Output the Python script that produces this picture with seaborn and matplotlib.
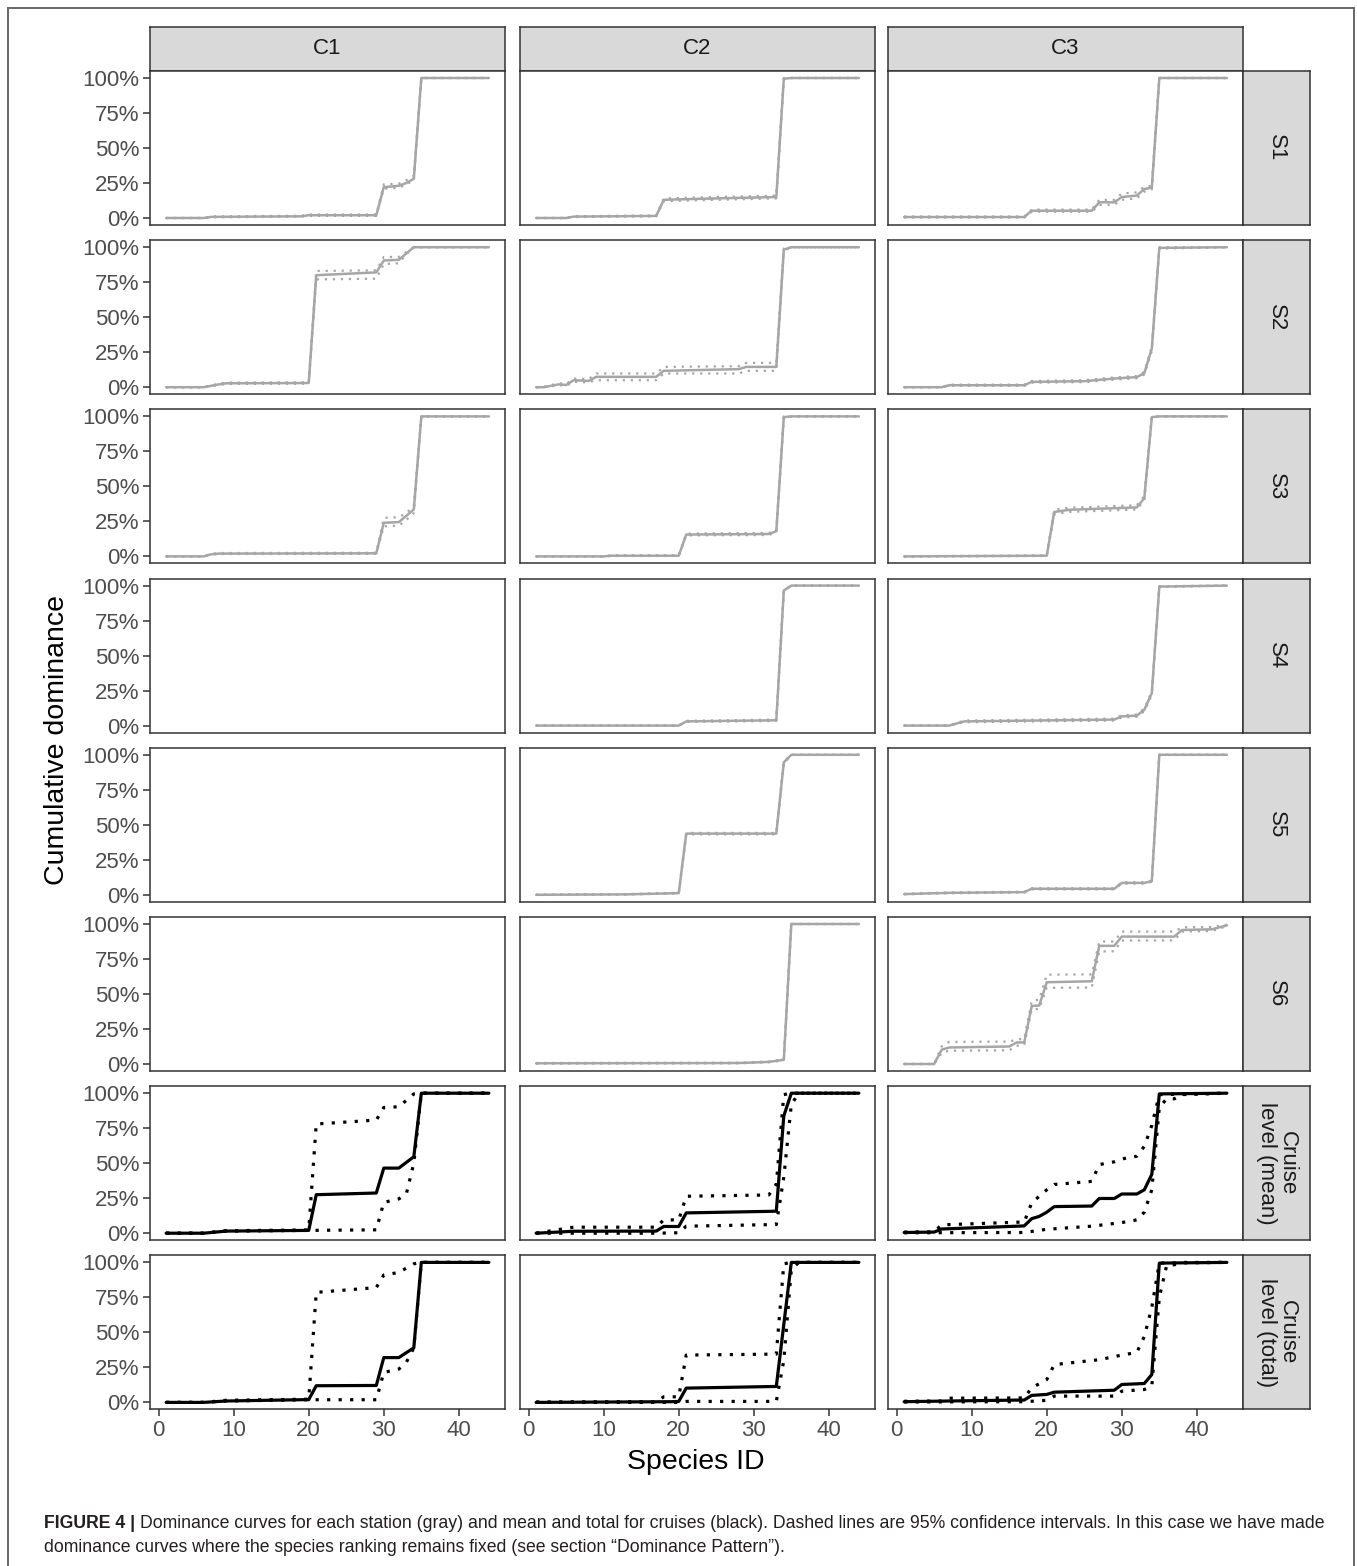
"""Dominance curves per station and cruise, faceted cruise x station."""

import matplotlib
matplotlib.use("Agg")
import matplotlib.pyplot as plt
import pandas as pd
import seaborn as sns
from matplotlib.patches import Rectangle

sns.set_theme(style="white")
plt.rcParams["font.family"] = ["Liberation Sans", "DejaVu Sans"]

W, H = 1357, 1566

CRUISES = ["C1", "C2", "C3"]
ROWS = ["S1", "S2", "S3", "S4", "S5", "S6", "Cruise\nlevel (mean)", "Cruise\nlevel (total)"]
X_TICKS = [0, 10, 20, 30, 40]
Y_TICKS = [0, 25, 50, 75, 100]
Y_TICK_LABELS = ["0%", "25%", "50%", "75%", "100%"]

# (species id, cumulative dominance %) vertices
C1_S1_MEAN = [(1, 0), (6, 0), (7, 0.8), (19, 1.2), (20, 2), (29, 2), (30, 22), (32, 23), (33, 25), (34, 28), (35, 100), (44, 100)]
C1_S1_LO = [(1, 0), (6, 0), (7, 0.5), (19, 1), (20, 1.5), (29, 1.5), (30, 21), (32, 21.5), (33, 24), (34, 27), (35, 100), (44, 100)]
C1_S1_HI = [(1, 0), (6, 0), (7, 1.2), (19, 1.6), (20, 2.5), (29, 2.5), (30, 24), (32, 24.5), (33, 27), (34, 30), (35, 100), (44, 100)]

C1_S2_MEAN = [(1, 0), (6, 0), (8, 2), (9, 2.8), (20, 3), (21, 80), (25, 81), (29, 82), (30, 90.5), (32, 91), (34, 100), (44, 100)]
C1_S2_LO = [(1, 0), (6, 0), (8, 1.5), (9, 2.3), (20, 2.5), (21, 77), (29, 77.5), (30, 88), (32, 88.5), (33, 95), (34, 100), (44, 100)]
C1_S2_HI = [(1, 0), (6, 0), (8, 2.5), (9, 3.3), (20, 3.5), (21, 83), (29, 83.5), (30, 93), (32, 93), (34, 100), (44, 100)]

C1_S3_MEAN = [(1, 0), (6, 0), (7, 1.5), (8, 2), (29, 2.2), (30, 24), (32, 24.5), (34, 33.5), (35, 100), (44, 100)]
C1_S3_LO = [(1, 0), (6, 0), (7, 1.2), (8, 1.7), (29, 1.8), (30, 21.5), (32, 22), (33, 26), (34, 31), (35, 100), (44, 100)]
C1_S3_HI = [(1, 0), (6, 0), (7, 1.8), (8, 2.4), (29, 2.6), (30, 27.5), (32, 28), (33, 31), (34, 36), (35, 100), (44, 100)]

C2_S1_MEAN = [(1, 0), (5, 0), (6, 1), (17, 1.5), (18, 13), (25, 14), (33, 15), (34, 99.5), (35, 100), (44, 100)]
C2_S1_LO = [(1, 0), (5, 0), (6, 0.7), (17, 1.2), (18, 12), (25, 13), (33, 14), (34, 99), (35, 100), (44, 100)]
C2_S1_HI = [(1, 0), (5, 0), (6, 1.3), (17, 1.8), (18, 14), (25, 15), (33, 16), (34, 100), (44, 100)]

C2_S2_MEAN = [(1, 0), (2, 0), (3, 1), (4, 2), (5, 1.6), (6, 5), (8, 4.5), (9, 7.4), (17, 7.4), (18, 11.7), (28, 12.9), (29, 14.5), (33, 14.5), (34, 98.3), (35, 100), (44, 100)]
C2_S2_LO = [(1, 0), (2, 0), (3, 0.6), (4, 1.4), (5, 1), (6, 3.8), (8, 3.5), (9, 5), (17, 5), (18, 9.8), (28, 9.8), (29, 11.7), (33, 11.7), (34, 97.5), (35, 100), (44, 100)]
C2_S2_HI = [(1, 0), (2, 0.4), (3, 1.5), (4, 2.8), (5, 2.4), (6, 6.2), (8, 5.8), (9, 9.8), (17, 9.8), (18, 14.5), (28, 15), (29, 17.4), (33, 17.4), (34, 99), (35, 100), (44, 100)]

C2_S3_MEAN = [(1, 0), (10, 0), (11, 0.5), (20, 0.5), (21, 15.6), (32, 16), (33, 18), (34, 99.5), (35, 100), (44, 100)]
C2_S3_LO = [(1, 0), (10, 0), (11, 0.3), (20, 0.3), (21, 15), (32, 15.3), (33, 17.2), (34, 99), (35, 100), (44, 100)]
C2_S3_HI = [(1, 0), (10, 0), (11, 0.8), (20, 0.8), (21, 16.3), (32, 16.7), (33, 18.8), (34, 100), (44, 100)]

C2_S4_MEAN = [(1, 0), (20, 0), (21, 3), (33, 3.8), (34, 96.5), (35, 100), (44, 100)]
C2_S4_LO = [(1, 0), (20, 0), (21, 2.6), (33, 3.3), (34, 96), (35, 100), (44, 100)]
C2_S4_HI = [(1, 0), (20, 0), (21, 3.4), (33, 4.3), (34, 97), (35, 100), (44, 100)]

C2_S5_MEAN = [(1, 0), (13, 0.3), (20, 1.2), (21, 43.7), (33, 43.7), (34, 94.6), (35, 100), (44, 100)]
C2_S5_LO = [(1, 0), (13, 0.2), (20, 1), (21, 43.2), (33, 43.2), (34, 94), (35, 100), (44, 100)]
C2_S5_HI = [(1, 0), (13, 0.5), (20, 1.5), (21, 44.2), (33, 44.2), (34, 95.2), (35, 100), (44, 100)]

C2_S6_MEAN = [(1, 0.5), (28, 0.7), (32, 1.5), (34, 3), (35, 100), (44, 100)]
C2_S6_LO = [(1, 0.3), (28, 0.5), (32, 1.2), (34, 2.6), (35, 100), (44, 100)]
C2_S6_HI = [(1, 0.7), (28, 0.9), (32, 1.8), (34, 3.4), (35, 100), (44, 100)]

C3_S1_MEAN = [(1, 0.7), (17, 0.7), (18, 5.2), (26, 5.2), (27, 11.2), (29, 11.2), (30, 15), (32, 16), (33, 20.7), (34, 21.7), (35, 100), (44, 100)]
C3_S1_LO = [(1, 0.3), (17, 0.3), (18, 4.5), (26, 4.5), (27, 9.3), (29, 9.5), (30, 13), (32, 14), (33, 18.8), (34, 20.5), (35, 100), (44, 100)]
C3_S1_HI = [(1, 1.1), (17, 1.1), (18, 6), (26, 6), (27, 12.9), (29, 13), (30, 17.5), (32, 18.3), (33, 22.4), (34, 23), (35, 100), (44, 100)]

C3_S2_MEAN = [(1, 0), (6, 0), (7, 1.4), (17, 1.4), (18, 3.8), (25, 4.3), (29, 6.2), (32, 7.2), (33, 10), (34, 27.6), (35, 99.5), (44, 100)]
C3_S2_LO = [(1, 0), (6, 0), (7, 1), (17, 1), (18, 3.2), (25, 3.6), (29, 5.4), (32, 6.4), (33, 9), (34, 26), (35, 99), (44, 100)]
C3_S2_HI = [(1, 0), (6, 0), (7, 1.8), (17, 1.8), (18, 4.4), (25, 5), (29, 7), (32, 8), (33, 11), (34, 29), (35, 100), (44, 100)]

C3_S3_MEAN = [(1, 0), (20, 0.5), (21, 31.7), (23, 33.3), (32, 35), (33, 41.6), (34, 99.5), (35, 100), (44, 100)]
C3_S3_LO = [(1, 0), (20, 0.3), (21, 30), (23, 31.8), (32, 33.5), (33, 40), (34, 99), (35, 100), (44, 100)]
C3_S3_HI = [(1, 0), (20, 0.7), (21, 33.3), (23, 34.8), (32, 36.5), (33, 43), (34, 100), (44, 100)]

C3_S4_MEAN = [(1, 0), (7, 0), (9, 3), (29, 4.3), (30, 6.6), (32, 7.1), (33, 11.3), (34, 23.2), (35, 99.3), (44, 100)]
C3_S4_LO = [(1, 0), (7, 0), (9, 2.4), (29, 3.6), (30, 5.8), (32, 6.3), (33, 10.3), (34, 22), (35, 99), (44, 100)]
C3_S4_HI = [(1, 0), (7, 0), (9, 3.6), (29, 5), (30, 7.4), (32, 7.9), (33, 12.3), (34, 24.4), (35, 99.6), (44, 100)]

C3_S5_MEAN = [(1, 0.5), (7, 1.4), (17, 1.9), (18, 4.3), (29, 4.3), (30, 8.5), (33, 8.5), (34, 9.7), (35, 100), (44, 100)]
C3_S5_LO = [(1, 0.3), (7, 1.1), (17, 1.6), (18, 3.9), (29, 3.9), (30, 8), (33, 8), (34, 9.2), (35, 100), (44, 100)]
C3_S5_HI = [(1, 0.7), (7, 1.7), (17, 2.2), (18, 4.7), (29, 4.7), (30, 9), (33, 9), (34, 10.2), (35, 100), (44, 100)]

C3_S6_MEAN = [(1, 0), (5, 0), (6, 10.2), (7, 11.8), (15, 12.5), (16, 15.4), (17, 15.4), (18, 41.4), (19, 41.8), (20, 58.4), (26, 59.1), (27, 84.4), (29, 84.4), (30, 91), (37, 91), (38, 95.7), (42, 96.2), (44, 99)]
C3_S6_LO = [(1, 0), (5, 0), (6, 8), (7, 9.5), (15, 9.8), (16, 13), (17, 13.5), (18, 39), (19, 39.5), (20, 54.4), (26, 54.6), (27, 80.4), (29, 80.5), (30, 88.2), (37, 88.3), (38, 94.6), (42, 95), (44, 98.5)]
C3_S6_HI = [(1, 0), (5, 0), (6, 12.5), (7, 15.8), (15, 16), (16, 17.5), (17, 18), (18, 45), (19, 46), (20, 63.8), (26, 64), (27, 87.5), (29, 87.5), (30, 94.6), (37, 94.6), (38, 97.6), (42, 97.8), (44, 99.5)]

C1_CM_MEAN = [(1, 0), (6, 0), (9, 1.5), (20, 2), (21, 27.5), (29, 28.7), (30, 46.5), (32, 46.5), (34, 54.6), (35, 100), (44, 100)]
C1_CM_LO = [(1, 0), (6, 0), (9, 1.5), (20, 2), (29, 2.4), (30, 22), (32, 24.5), (33, 28), (34, 50), (35, 100), (44, 100)]
C1_CM_HI = [(1, 0), (6, 0), (9, 1.8), (20, 2.3), (21, 78), (29, 80.8), (30, 89.8), (32, 90.3), (34, 99.5), (35, 100), (44, 100)]

C1_CT_MEAN = [(1, 0), (6, 0), (9, 1), (20, 2), (21, 11.9), (29, 12.1), (30, 32), (32, 32), (34, 39), (35, 100), (44, 100)]
C1_CT_LO = [(1, 0), (6, 0), (9, 1), (20, 1.9), (29, 1.9), (30, 21.4), (32, 23.8), (33, 28.6), (34, 39), (35, 100), (44, 100)]
C1_CT_HI = [(1, 0), (6, 0), (9, 1.5), (20, 2.3), (21, 78.6), (29, 82), (30, 91), (32, 92.8), (34, 99), (35, 100), (44, 100)]

C2_CM_MEAN = [(1, 0), (6, 1.4), (17, 1.5), (18, 4.8), (20, 4.8), (21, 14.5), (33, 15.7), (34, 83.8), (35, 100), (44, 100)]
C2_CM_LO = [(1, 0), (17, 0), (20, 0.3), (21, 5), (33, 6.2), (34, 40), (35, 92), (36, 100), (44, 100)]
C2_CM_HI = [(1, 0), (6, 4.3), (17, 4.3), (18, 9.5), (20, 9.5), (21, 26.4), (32, 27.3), (33, 35), (34, 99), (35, 100), (44, 100)]

C2_CT_MEAN = [(1, 0), (19, 0.5), (20, 0.7), (21, 10.2), (33, 11.4), (35, 100), (44, 100)]
C2_CT_LO = [(1, 0), (20, 0), (21, 0.7), (33, 0.7), (34, 30), (35, 95), (36, 100), (44, 100)]
C2_CT_HI = [(1, 0.3), (17, 0.5), (18, 4), (20, 4), (21, 33.8), (33, 34.5), (34, 99), (35, 100), (44, 100)]

C3_CM_MEAN = [(1, 0.5), (5, 0.8), (6, 3), (17, 5.2), (18, 10.4), (19, 12), (20, 15), (21, 19), (26, 19.4), (27, 24.8), (29, 24.8), (30, 28), (32, 28), (33, 31), (34, 42), (35, 99.5), (44, 100)]
C3_CM_LO = [(1, 0.3), (17, 0.5), (20, 2.8), (26, 5), (30, 7.6), (32, 9.5), (33, 15), (34, 31), (35, 90), (36, 96), (37, 96), (38, 99), (44, 100)]
C3_CM_HI = [(1, 0.8), (5, 1), (6, 6), (17, 8), (18, 21.7), (20, 31), (21, 34.8), (26, 37), (27, 49), (29, 51), (30, 53), (32, 55), (33, 62), (34, 77), (35, 99), (44, 100)]

C3_CT_MEAN = [(1, 0.5), (7, 1), (17, 1.7), (18, 5), (20, 5.7), (21, 7.3), (29, 8.7), (30, 12.8), (33, 13.5), (34, 19.9), (35, 99.5), (44, 100)]
C3_CT_LO = [(1, 0.3), (17, 0.5), (20, 1.5), (21, 4.5), (29, 4.5), (30, 8), (33, 9.2), (34, 11.6), (35, 75), (36, 98.3), (37, 98.3), (38, 100), (44, 100)]
C3_CT_HI = [(1, 0.8), (6, 1), (7, 3), (17, 3.2), (18, 10.4), (20, 16.3), (21, 27), (27, 30.5), (30, 33.8), (32, 35.7), (33, 47), (34, 68), (35, 99.5), (44, 100)]

CURVES = {
    ("C1", "S1"): (C1_S1_MEAN, C1_S1_LO, C1_S1_HI),
    ("C1", "S2"): (C1_S2_MEAN, C1_S2_LO, C1_S2_HI),
    ("C1", "S3"): (C1_S3_MEAN, C1_S3_LO, C1_S3_HI),
    ("C2", "S1"): (C2_S1_MEAN, C2_S1_LO, C2_S1_HI),
    ("C2", "S2"): (C2_S2_MEAN, C2_S2_LO, C2_S2_HI),
    ("C2", "S3"): (C2_S3_MEAN, C2_S3_LO, C2_S3_HI),
    ("C2", "S4"): (C2_S4_MEAN, C2_S4_LO, C2_S4_HI),
    ("C2", "S5"): (C2_S5_MEAN, C2_S5_LO, C2_S5_HI),
    ("C2", "S6"): (C2_S6_MEAN, C2_S6_LO, C2_S6_HI),
    ("C3", "S1"): (C3_S1_MEAN, C3_S1_LO, C3_S1_HI),
    ("C3", "S2"): (C3_S2_MEAN, C3_S2_LO, C3_S2_HI),
    ("C3", "S3"): (C3_S3_MEAN, C3_S3_LO, C3_S3_HI),
    ("C3", "S4"): (C3_S4_MEAN, C3_S4_LO, C3_S4_HI),
    ("C3", "S5"): (C3_S5_MEAN, C3_S5_LO, C3_S5_HI),
    ("C3", "S6"): (C3_S6_MEAN, C3_S6_LO, C3_S6_HI),
    ("C1", ROWS[6]): (C1_CM_MEAN, C1_CM_LO, C1_CM_HI),
    ("C1", ROWS[7]): (C1_CT_MEAN, C1_CT_LO, C1_CT_HI),
    ("C2", ROWS[6]): (C2_CM_MEAN, C2_CM_LO, C2_CM_HI),
    ("C2", ROWS[7]): (C2_CT_MEAN, C2_CT_LO, C2_CT_HI),
    ("C3", ROWS[6]): (C3_CM_MEAN, C3_CM_LO, C3_CM_HI),
    ("C3", ROWS[7]): (C3_CT_MEAN, C3_CT_LO, C3_CT_HI),
}

records = []
for (cruise, row), series in CURVES.items():
    for stat, pts in zip(["mean", "lo", "hi"], series):
        for sp, val in pts:
            records.append({"cruise": cruise, "row": row, "stat": stat, "species": sp, "value": val})
df = pd.DataFrame(records)

# layout in pixels of the reference
COL_LEFT = [150, 520, 888]
PANEL_W = 355
ROW_TOP = [71 + 169.2 * i for i in range(8)]
PANEL_H = 154
EDGE = "#333333"
GRAY = "#a6a6a6"

fig = plt.figure(figsize=(W / 100, H / 100), dpi=100)


def px_axes(x0, y0, x1, y1):
    return fig.add_axes([x0 / W, 1 - y1 / H, (x1 - x0) / W, (y1 - y0) / H])


def style_box(ax):
    for sp in ax.spines.values():
        sp.set_visible(True)
        sp.set_color(EDGE)
        sp.set_linewidth(1.1)


for ci, cruise in enumerate(CRUISES):
    x0 = COL_LEFT[ci]
    strip = px_axes(x0, 27, x0 + PANEL_W, 71)
    strip.set_facecolor("#d9d9d9")
    strip.set_xticks([])
    strip.set_yticks([])
    style_box(strip)
    strip.text(0.5, 0.5, cruise, ha="center", va="center", fontsize=16, color="#1a1a1a",
               transform=strip.transAxes)

    for ri, row in enumerate(ROWS):
        y0 = ROW_TOP[ri]
        ax = px_axes(x0, y0, x0 + PANEL_W, y0 + PANEL_H)
        ax.set_facecolor("white")
        style_box(ax)
        sub = df[(df["cruise"] == cruise) & (df["row"] == row)]
        cruise_level = ri >= 6
        color = "black" if cruise_level else GRAY
        if len(sub):
            sns.lineplot(data=sub[sub["stat"] == "mean"], x="species", y="value", color=color,
                         lw=2.3 if cruise_level else 1.8, estimator=None, ax=ax)
            for stat in ["lo", "hi"]:
                sns.lineplot(data=sub[sub["stat"] == stat], x="species", y="value", color=color,
                             lw=2.3 if cruise_level else 1.6, linestyle=(0, (1, 2.6)),
                             estimator=None, ax=ax)
        ax.set_xlim(1 - 0.05 * 43, 44 + 0.05 * 43)
        ax.set_ylim(-5, 105)
        ax.set_xlabel("")
        ax.set_ylabel("")
        ax.set_xticks(X_TICKS)
        ax.set_yticks(Y_TICKS)
        ax.set_yticklabels(Y_TICK_LABELS)
        ax.tick_params(axis="both", length=4.8, width=1.1, color=EDGE, labelcolor="#4d4d4d",
                       labelsize=16, pad=3)
        ax.tick_params(axis="x", bottom=(ri == 7), labelbottom=(ri == 7))
        ax.tick_params(axis="y", left=(ci == 0), labelleft=(ci == 0))
        ax.grid(False)

        if ci == 2:
            rs = px_axes(1243, y0, 1310, y0 + PANEL_H)
            rs.set_facecolor("#d9d9d9")
            rs.set_xticks([])
            rs.set_yticks([])
            style_box(rs)
            rs.text(0.5, 0.5, row, ha="center", va="center", rotation=-90, fontsize=16,
                    color="#1a1a1a", multialignment="center", linespacing=1.0,
                    transform=rs.transAxes)

fig.text(57 / W, 1 - 740 / H, "Cumulative dominance", rotation=90, ha="center", va="center",
         fontsize=20.5, color="black")
fig.text(696 / W, 1 - 1462 / H, "Species ID", ha="center", va="center", fontsize=20.5, color="black")

# journal frame around the figure
fig.add_artist(Rectangle((8 / W, -0.05), (1354 - 8) / W, 1 - 8 / H + 0.05, transform=fig.transFigure,
                         fill=False, ec="#666666", lw=1.4))

# caption
renderer = fig.canvas.get_renderer()
cap_size = 12.72
bold = fig.text(44 / W, 1 - 1523 / H, "FIGURE 4 | ", fontsize=cap_size, fontweight="bold",
                va="center", color="#231f20")
bw = bold.get_window_extent(renderer).width
fig.text((44 + bw) / W, 1 - 1523 / H,
         "Dominance curves for each station (gray) and mean and total for cruises (black). "
         "Dashed lines are 95% confidence intervals. In this case we have made",
         fontsize=cap_size, va="center", color="#231f20")
fig.text(44 / W, 1 - 1548 / H,
         "dominance curves where the species ranking remains fixed (see section \u201cDominance Pattern\u201d).",
         fontsize=cap_size, va="center", color="#231f20")

fig.savefig("out.png", dpi=100, facecolor="white")
